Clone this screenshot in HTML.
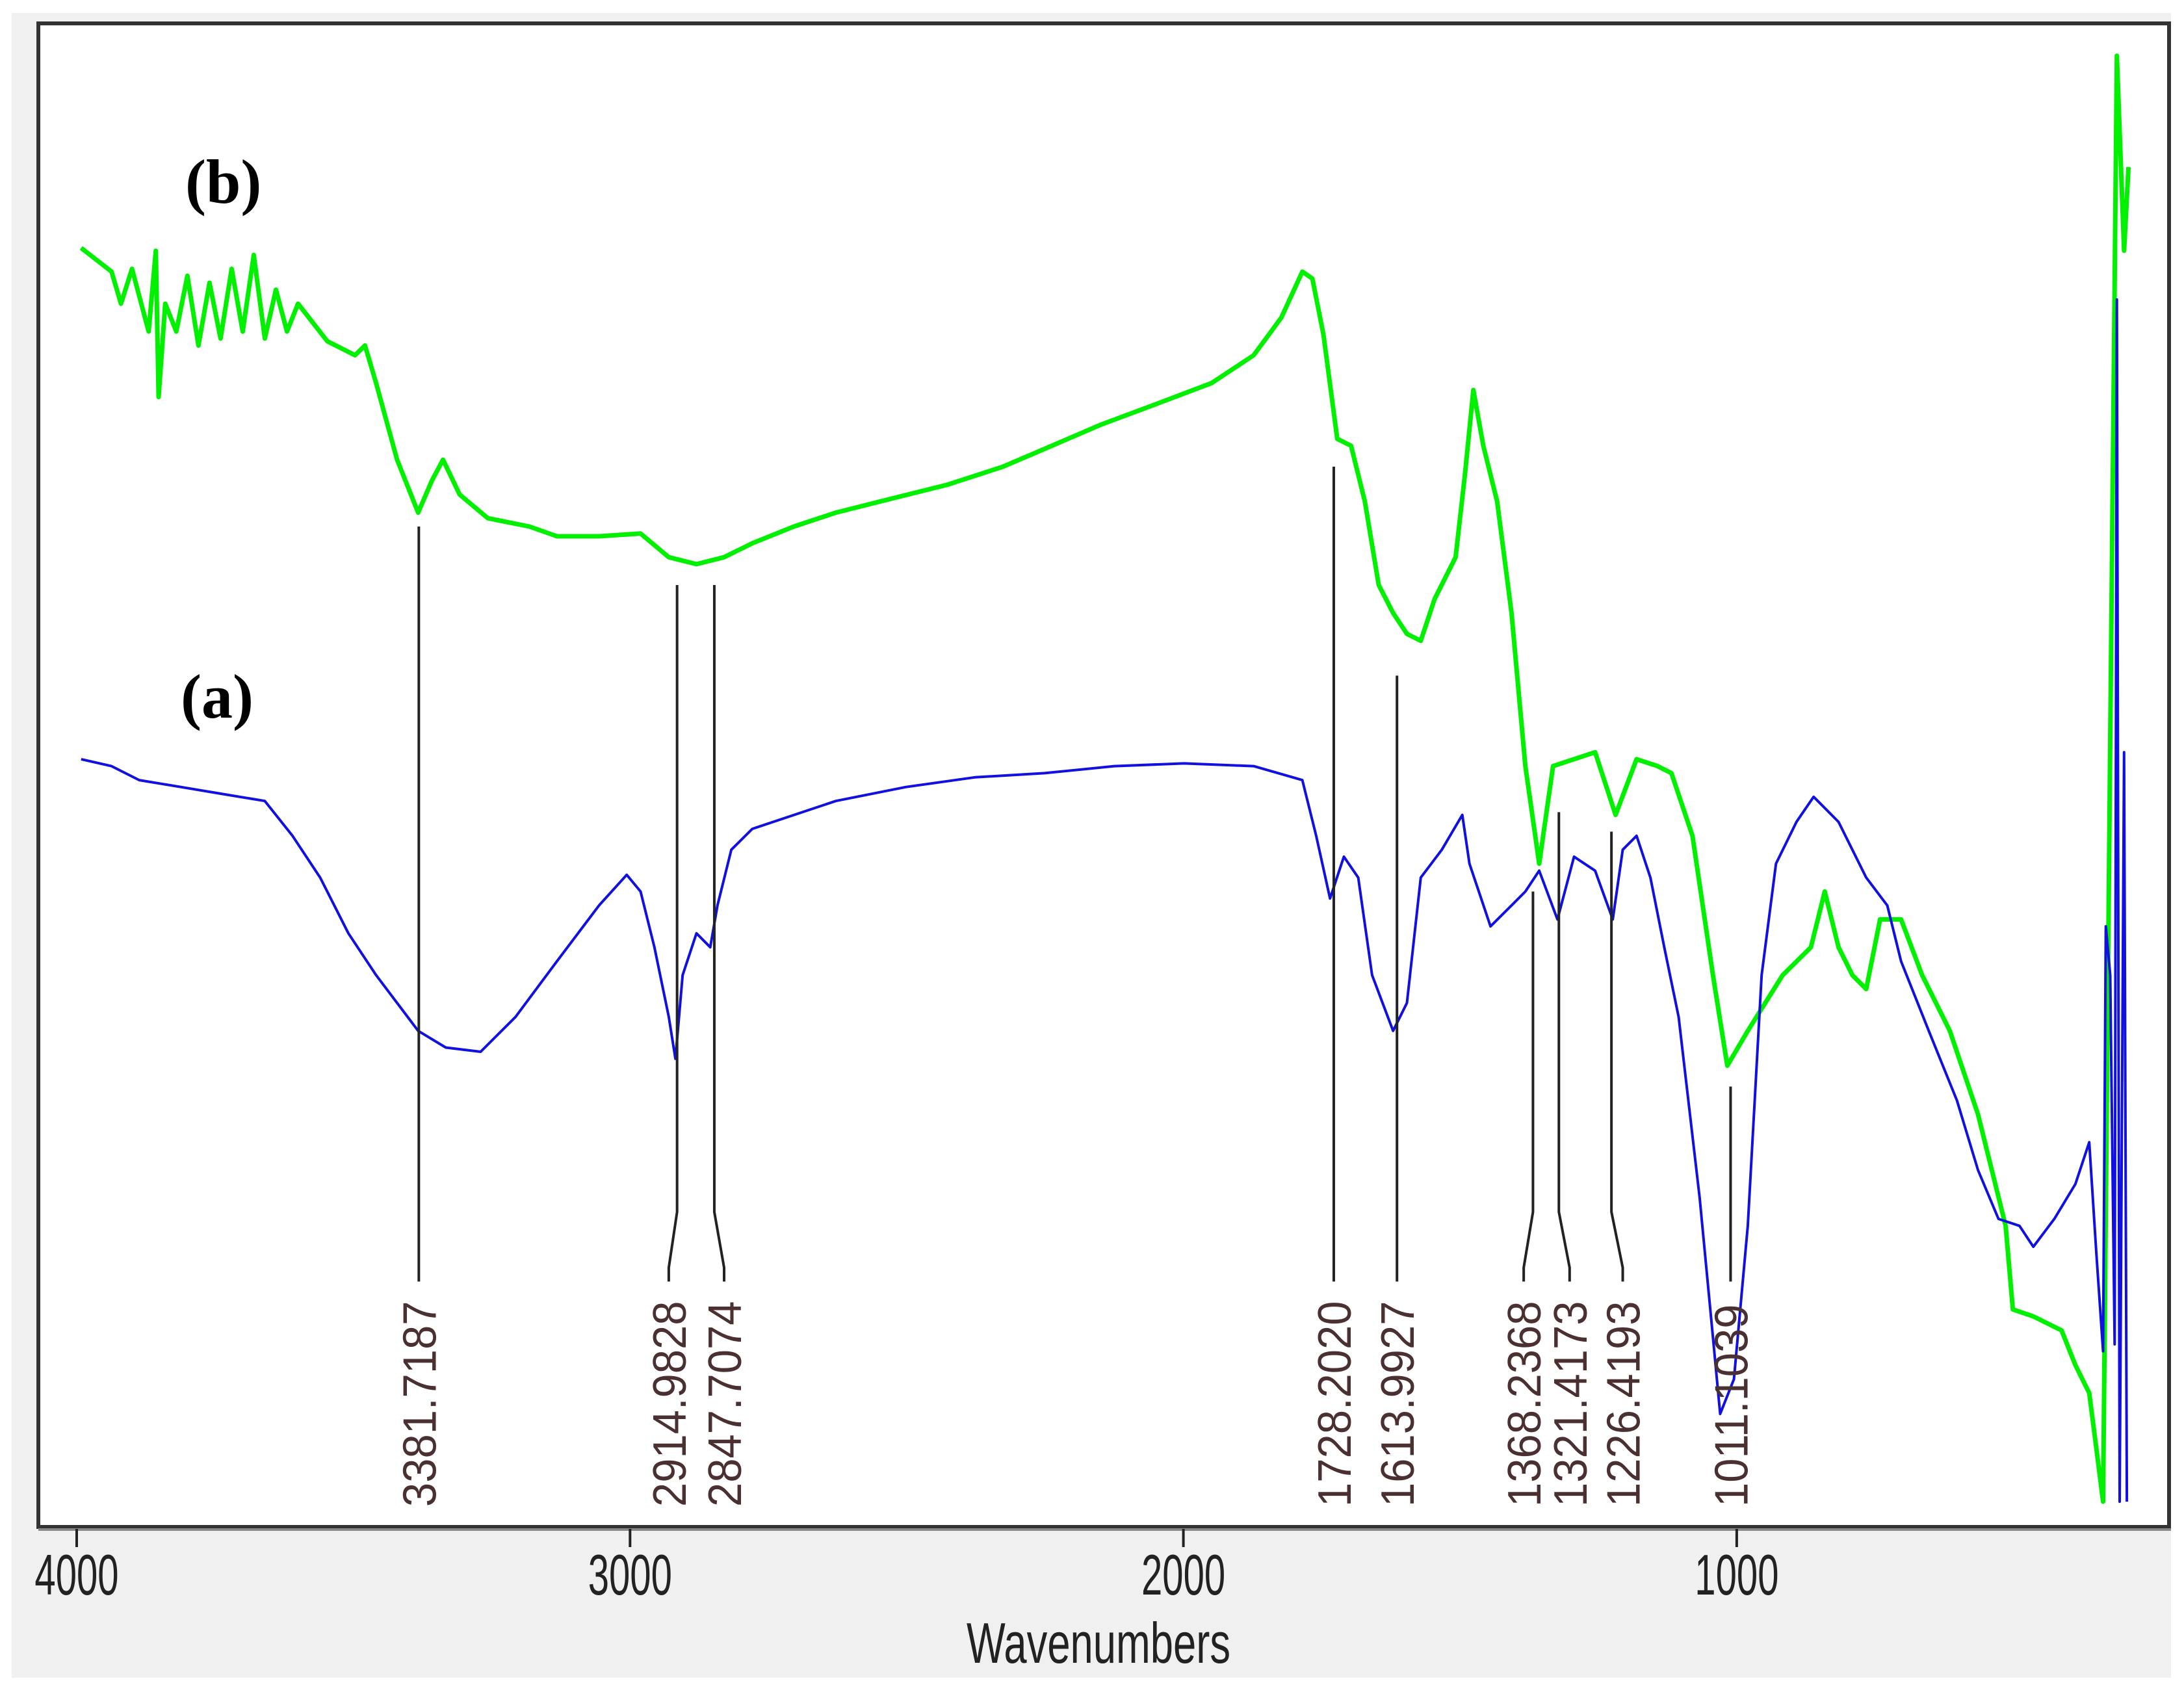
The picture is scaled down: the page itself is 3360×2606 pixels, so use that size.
<!DOCTYPE html>
<html><head><meta charset="utf-8"><style>
html,body{margin:0;padding:0;background:#fff;}
body{width:3360px;height:2601px;overflow:hidden;}
</style></head><body>
<svg id="chart" width="3360" height="2601" viewBox="0 0 3360 2601" xmlns="http://www.w3.org/2000/svg">
<rect x="18" y="20" width="3322" height="2561" fill="#f0f0f0"/>
<rect x="59" y="36" width="3278" height="2313" fill="#fff" stroke="#333" stroke-width="6"/>
<line x1="59" y1="2353" x2="3340" y2="2353" stroke="#888" stroke-width="4"/>
<g id="ticks"></g>
<g id="series"></g>
<g id="annots"></g>
<text x="1690" y="2558" font-family="Liberation Sans, sans-serif" font-size="88" fill="#222" text-anchor="middle" transform="translate(1690 0) scale(0.72 1) translate(-1690 0)">Wavenumbers</text>
<text x="285" y="312" font-family="Liberation Serif, serif" font-weight="bold" font-size="96" fill="#000">(b)</text>
<text x="278" y="1104" font-family="Liberation Serif, serif" font-weight="bold" font-size="96" fill="#000">(a)</text>
</svg>
<script>
const tickValues=[4000,3000,2000,1000];
const tickLabels=["4000","3000","2000","1000"];
const greenWn=[3992,3937,3920,3900,3870,3857,3852,3840,3820,3800,3780,3760,3740,3720,3700,3680,3660,3640,3620,3600,3547,3497,3479,3459,3421,3383,3358,3338,3308,3257,3182,3132,3056,2981,2930,2880,2830,2779,2704,2628,2528,2427,2326,2226,2150,2049,1949,1873,1823,1785,1767,1747,1722,1697,1672,1647,1621,1596,1571,1546,1508,1491,1476,1458,1433,1407,1382,1357,1332,1294,1256,1219,1181,1143,1118,1080,1043,1017,980,917,866,841,816,791,766,741,703,665,615,564,514,501,464,413,388,363,350,338,325,313,300,292];
const greenT=[920,903,880,905,860,918,813,880,860,900,850,895,855,905,860,915,855,890,860,880,853,843,850,823,768,730,753,768,743,726,720,713,713,715,698,693,698,708,720,730,740,750,763,780,793,808,823,843,870,903,898,858,783,778,738,678,658,643,638,668,698,758,818,778,738,658,548,478,548,553,558,513,553,548,543,498,398,333,358,398,418,458,418,398,388,438,438,398,358,298,218,158,153,143,118,98,58,20,568,1058,918,978];
const blueWn=[3992,3937,3887,3811,3736,3660,3610,3560,3509,3459,3383,3333,3270,3207,3132,3056,3006,2981,2956,2930,2918,2905,2880,2855,2842,2817,2779,2628,2502,2377,2251,2125,1999,1873,1785,1760,1735,1710,1684,1659,1621,1596,1571,1533,1496,1483,1445,1407,1382,1357,1324,1294,1256,1224,1206,1181,1156,1131,1105,1067,1043,1030,1005,980,955,929,892,861,816,766,728,703,653,602,564,527,489,464,426,388,363,350,338,333,325,317,313,308,300,295];
const blueT=[553,548,538,533,528,523,498,468,428,398,358,346,343,368,408,448,470,458,418,368,338,398,428,418,448,488,503,523,533,540,543,548,550,548,538,498,453,483,468,398,358,378,468,488,513,478,433,448,458,473,438,483,473,438,488,498,468,418,368,238,138,83,108,218,398,478,508,526,508,468,448,408,358,308,258,223,218,203,223,248,278,198,128,433,398,133,883,20,558,20];
const peakWn=[3381.7187,2914.9828,2847.7074,1728.2020,1613.9927,1368.2368,1321.4173,1226.4193,1011.1039];
const peakTopT=[720,678,678,763,613,458,515,501,318];
const peakLabels=["3381.7187","2914.9828","2847.7074","1728.2020","1613.9927","1368.2368","1321.4173","1226.4193","1011.1039"];
const labelWn=[3381.7187,2930,2830,1728.2020,1613.9927,1385,1302,1206,1011.1039];

const NS="http://www.w3.org/2000/svg";
function xs(w){return 118+(4000-w)*0.8513;}
function ys(t){return 2353-t*2.143;}
function mk(tag,attrs,parent){const e=document.createElementNS(NS,tag);for(const k in attrs)e.setAttribute(k,attrs[k]);parent.appendChild(e);return e;}

const tg=document.getElementById('ticks');
tickValues.forEach((v,i)=>{
  const l=mk('line',{x1:xs(v),x2:xs(v),y1:2352,y2:2380,stroke:'#222','stroke-width':4},tg);
  
  
  const t=mk('text',{x:0,y:0,'font-family':'Liberation Sans, sans-serif','font-size':88,fill:'#222','text-anchor':'middle',transform:'translate('+xs(v)+' 2453) scale(0.66 1)'},tg);
  t.textContent=tickLabels[i];
  
  
});

const sg=document.getElementById('series');
function line(wn,tv,color,w,name){
  const n=Math.min(wn.length,tv.length);let d='';
  for(let i=0;i<n;i++)d+=(i?'L':'M')+xs(wn[i]).toFixed(1)+' '+ys(tv[i]).toFixed(1);
  const p=mk('path',{d:d,fill:'none',stroke:color,'stroke-width':w,'stroke-linejoin':'round'},sg);
  
  
}
line(greenWn,greenT,'#00f000',7,'series-b-line');
line(blueWn,blueT,'#1010e0',4,'series-a-line');

const ag=document.getElementById('annots');
peakWn.forEach((w,i)=>{
  const x0=xs(w),x1=xs(labelWn[i]);
  const d='M'+x0+' '+ys(peakTopT[i])+'L'+x0+' '+ys(228)+'L'+x1+' '+ys(188)+'L'+x1+' '+ys(178);
  const p=mk('path',{d:d,fill:'none',stroke:'#222','stroke-width':4},ag);
  
  
  const t=mk('text',{x:0,y:0,'font-family':'Liberation Sans, sans-serif','font-size':72,fill:'#4a3030',transform:'translate('+(x1+26)+' '+2318+') rotate(-90) scale(0.93 1)'},ag);
  t.textContent=peakLabels[i];
  
  
});
</script>
</body></html>
